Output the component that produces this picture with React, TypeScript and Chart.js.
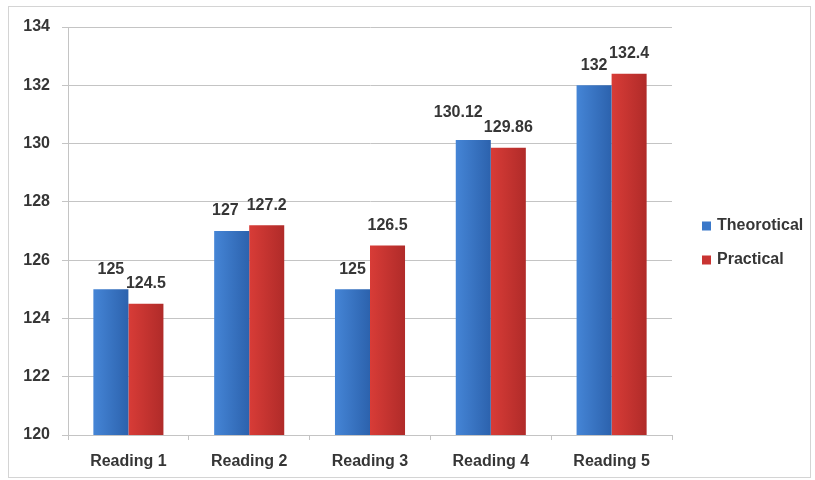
import React, { useEffect, useRef } from "react";
import { Chart, registerables } from "chart.js";

Chart.register(...registerables);

const categories = ["Reading 1", "Reading 2", "Reading 3", "Reading 4", "Reading 5"];
const theoretical = [125, 127, 125, 130.12, 132];
const practical = [124.5, 127.2, 126.5, 129.86, 132.4];
const seriesNames = ["Theorotical", "Practical"];
const yTicks = [120, 122, 124, 126, 128, 130, 132, 134];

const FONT = "'Liberation Sans', Arial, sans-serif";
const TEXT = "#363636";
const GRID = "#c4c4c4";

const solid = ["#3a78c9", "#c93432"];
const gradients: [string, string][] = [
  ["#4585d6", "#2c62ad"],
  ["#d83c37", "#b02b29"],
];

const gradientPlugin = {
  id: "barGradient",
  beforeDatasetsDraw(chart: any) {
    const ctx = chart.ctx;
    chart.data.datasets.forEach((_: any, di: number) => {
      const meta = chart.getDatasetMeta(di);
      meta.data.forEach((el: any) => {
        const w = el.width;
        const g = ctx.createLinearGradient(el.x - w / 2, 0, el.x + w / 2, 0);
        g.addColorStop(0, gradients[di][0]);
        g.addColorStop(1, gradients[di][1]);
        el.options = { ...el.options, backgroundColor: g };
      });
    });
  },
};

const labelPlugin = {
  id: "valueLabels",
  afterDatasetsDraw(chart: any) {
    const ctx = chart.ctx;
    ctx.save();
    ctx.font = `bold 16px ${FONT}`;
    ctx.fillStyle = TEXT;
    ctx.textAlign = "center";
    ctx.textBaseline = "middle";
    const m0 = chart.getDatasetMeta(0);
    const m1 = chart.getDatasetMeta(1);
    const d0 = chart.data.datasets[0].data;
    const d1 = chart.data.datasets[1].data;
    const textH = 11;
    const raise = 15;
    const margin = 8;
    m0.data.forEach((el0: any, i: number) => {
      const el1 = m1.data[i];
      const t0 = String(d0[i]);
      const t1 = String(d1[i]);
      const w0 = ctx.measureText(t0).width;
      const w1 = ctx.measureText(t1).width;
      let x0 = el0.x, y0 = el0.y - 20;
      const x1 = el1.x, y1 = el1.y - 20;
      if (Math.abs(y0 - y1) < textH) {
        const overlap = (x0 + w0 / 2) - (x1 - w1 / 2) + margin;
        if (overlap > 0) {
          const shift = Math.min(overlap, 15);
          x0 -= shift;
          if (overlap > shift) y0 = Math.min(y0, y1 - raise);
        }
      }
      ctx.fillText(t0, x0, y0);
      ctx.fillText(t1, x1, y1);
    });
    ctx.restore();
  },
};

const legendPlugin = {
  id: "sideLegend",
  afterDraw(chart: any) {
    const ctx = chart.ctx;
    const area = chart.chartArea;
    ctx.save();
    ctx.font = `bold 16px ${FONT}`;
    ctx.textBaseline = "middle";
    ctx.textAlign = "left";
    const x0 = area.right + 30;
    const y0 = 226;
    chart.data.datasets.forEach((ds: any, di: number) => {
      const y = y0 + di * 34;
      ctx.fillStyle = solid[di];
      ctx.fillRect(x0, y - 4.5, 9, 9);
      ctx.fillStyle = TEXT;
      ctx.fillText(ds.label, x0 + 15, y);
    });
    ctx.restore();
  },
};

export default function App() {
  const ref = useRef<HTMLCanvasElement | null>(null);
  useEffect(() => {
    if (!ref.current) return;
    const chart = new Chart(ref.current, {
      type: "bar",
      data: {
        labels: categories,
        datasets: [
          { label: seriesNames[0], data: theoretical, backgroundColor: () => solid[0] },
          { label: seriesNames[1], data: practical, backgroundColor: () => solid[1] },
        ],
      },
      options: {
        responsive: false,
        animation: false,
        devicePixelRatio: 1,
        layout: { padding: { left: 8, top: 27, right: 143, bottom: 9 } },
        datasets: { bar: { barPercentage: 1, categoryPercentage: 0.58 } },
        plugins: { legend: { display: false }, tooltip: { enabled: false } },
        scales: {
          x: {
            afterFit: (s: any) => { s.height = 36; },
            grid: { offset: true, drawOnChartArea: false, tickLength: 5, color: GRID },
            border: { color: GRID },
            ticks: { color: TEXT, font: { family: FONT, size: 16, weight: "bold" }, padding: 12 },
          },
          y: {
            min: 120,
            max: 134,
            afterFit: (s: any) => { s.width = 60; },
            afterBuildTicks: (s: any) => { s.ticks = yTicks.map((v) => ({ value: v })); },
            grid: { color: GRID, tickLength: 6 },
            border: { color: GRID },
            ticks: { color: TEXT, font: { family: FONT, size: 16, weight: "bold" }, padding: 12 },
          },
        },
      },
      plugins: [gradientPlugin, labelPlugin, legendPlugin],
    });
    return () => chart.destroy();
  }, []);
  return (
    <div style={{ position: "fixed", left: 0, top: 0, width: 815, height: 480, background: "#fff" }}>
      <div style={{ position: "absolute", left: 8, top: 6, width: 801, height: 470, border: "1px solid #d4d4d4" }} />
      <canvas ref={ref} width={815} height={480} style={{ position: "absolute", left: 0, top: 0, width: 815, height: 480 }} />
    </div>
  );
}
